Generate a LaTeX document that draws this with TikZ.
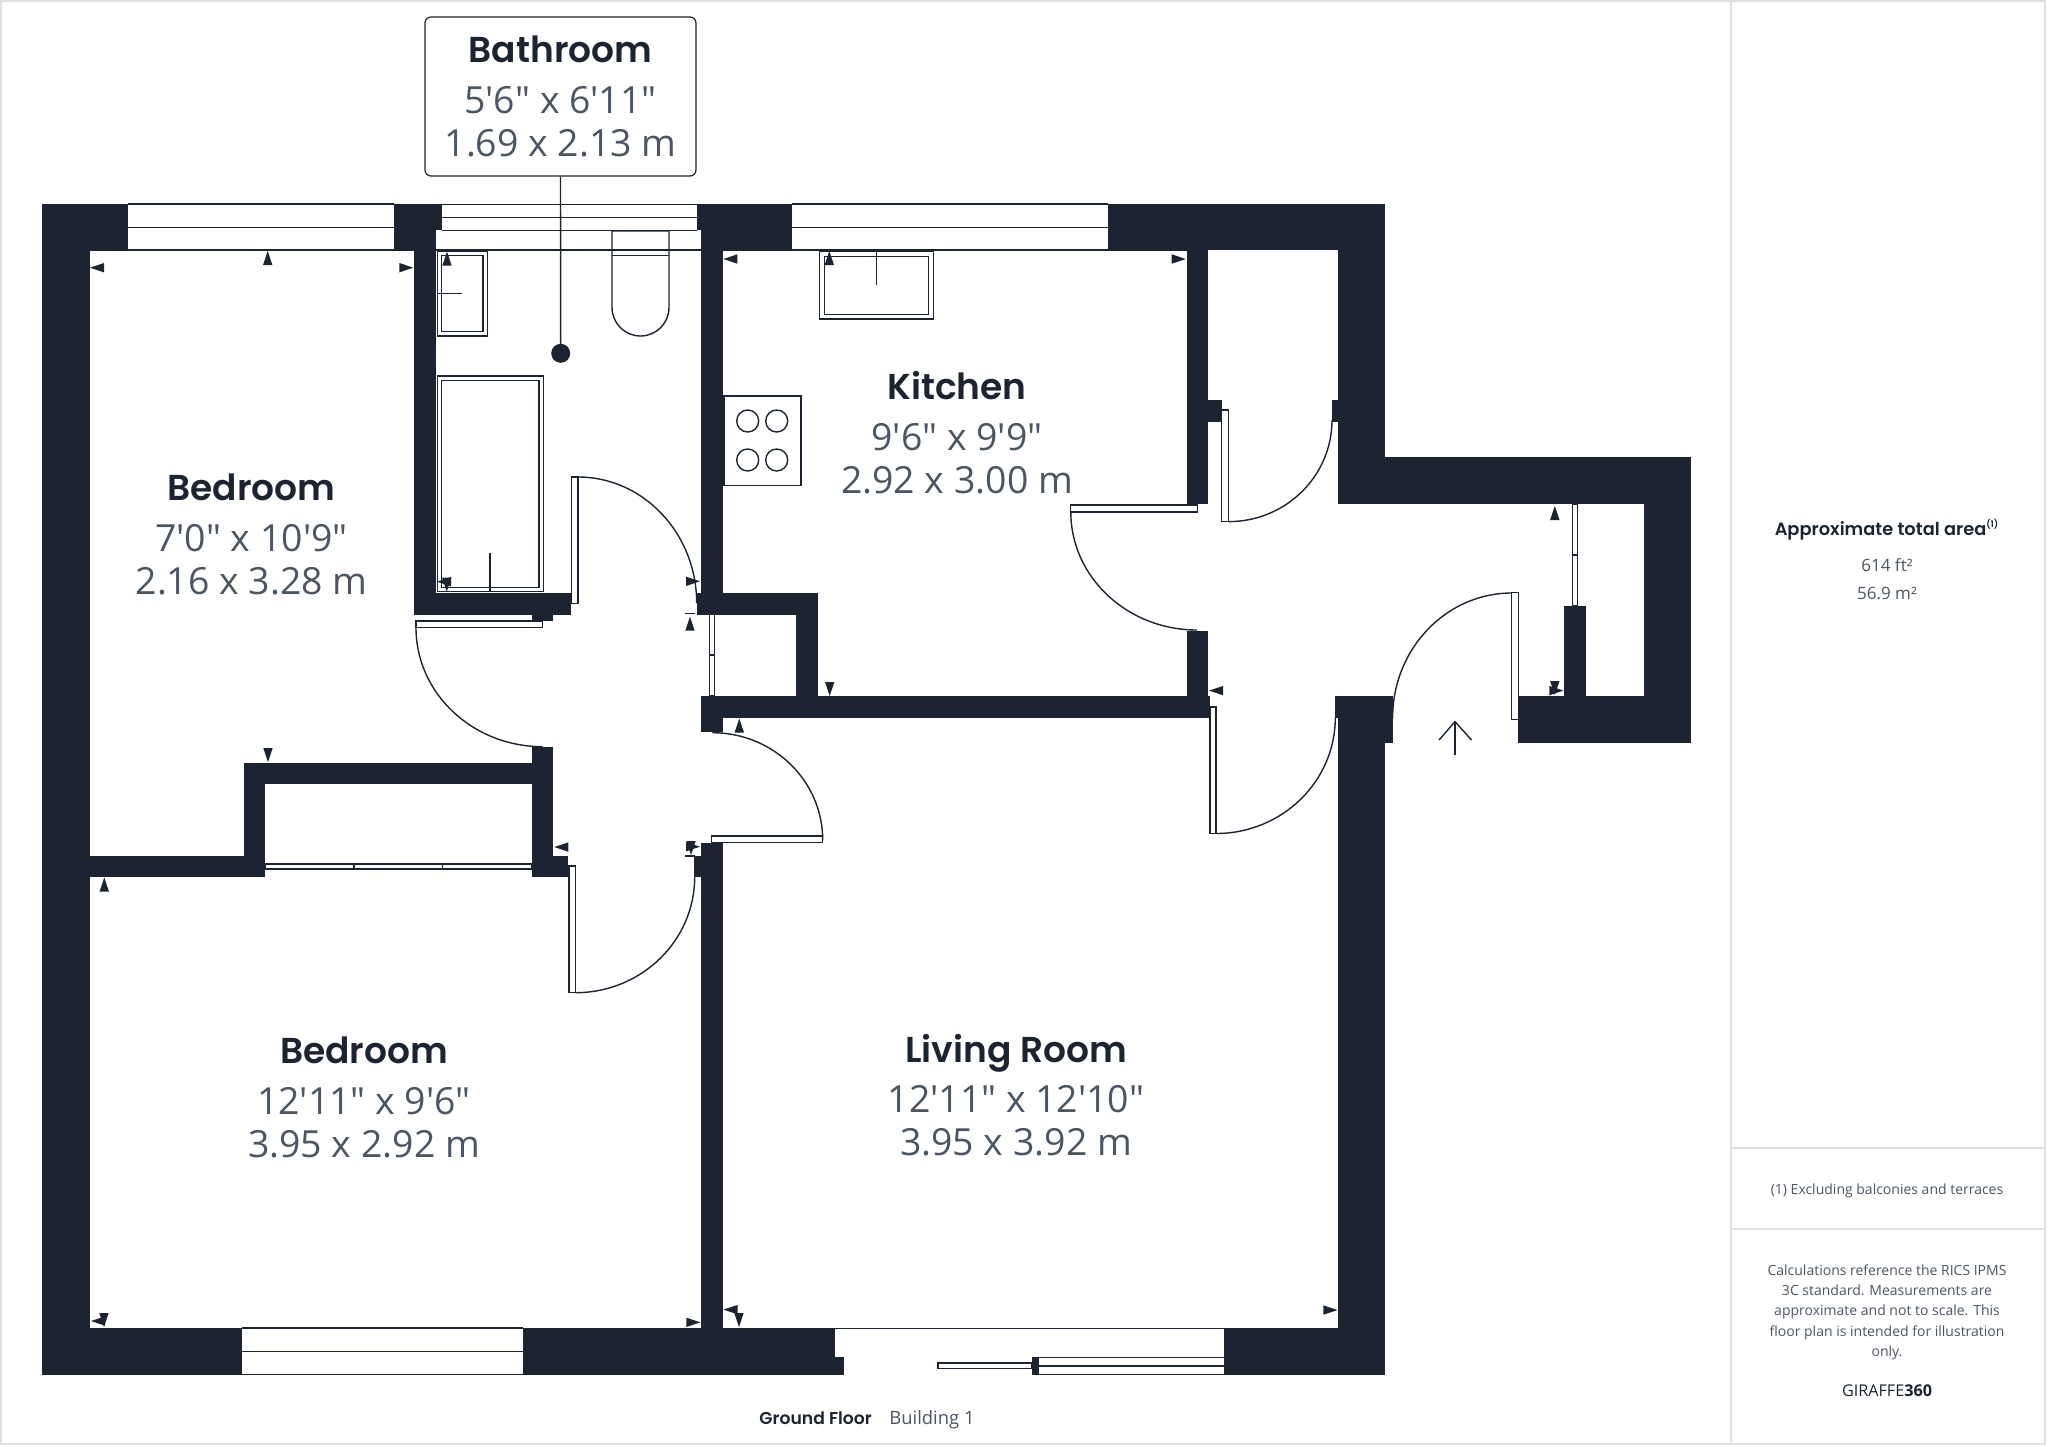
\documentclass[tikz,border=0pt]{standalone}
\usepackage{fontspec}
\newfontfamily\bodyfont{Open Sans}
\newfontfamily\headfont{Poppins}[BoldFont={Poppins SemiBold}]
\usetikzlibrary{calc}
\definecolor{wallcol}{HTML}{1B2430}
\definecolor{valuecol}{HTML}{4B5563}
\definecolor{framecol}{HTML}{DEE0E2}
\tikzset{
  wall/.style={fill=wallcol},
  fixture/.style={draw=wallcol, line width=0.7pt},
  leaf/.style={draw=wallcol, line width=0.6pt, fill=white},
  frame/.style={draw=framecol, line width=1pt},
  roomname/.style={font=\headfont\bfseries\fontsize{18}{20}\selectfont, text=wallcol, inner sep=0pt},
  roomsize/.style={font=\bodyfont\fontsize{18.7}{22}\selectfont, text=valuecol, inner sep=0pt},
  sidetext/.style={font=\bodyfont\fontsize{8.5}{10.2}\selectfont, text=valuecol, inner sep=0pt, align=center}
}
% door swing, from #1 to #2, #3 is the corner of the swing
\newcommand{\swing}[3]{\draw[fixture] (#1) .. controls ($(#1)!0.552!(#3)$) and ($(#2)!0.552!(#3)$) .. (#2);}
% dimension marks, tip at the given point
\newcommand{\tipup}[2]{\fill[wall] (#1,#2) -- ++(-4.7,14) -- ++(9.4,0) -- cycle;}
\newcommand{\tipdown}[2]{\fill[wall] (#1,#2) -- ++(-4.7,-14) -- ++(9.4,0) -- cycle;}
\newcommand{\tipleft}[2]{\fill[wall] (#1,#2) -- ++(14,-4.7) -- ++(0,9.4) -- cycle;}
\newcommand{\tipright}[2]{\fill[wall] (#1,#2) -- ++(-14,-4.7) -- ++(0,9.4) -- cycle;}
\begin{document}
\begin{tikzpicture}[x=0.5pt,y=-0.5pt]
  \useasboundingbox (0,0) rectangle (2048,1446);
  % frame and side panel
  \draw[frame] (1,1) rectangle (2045,1444);
  \draw[frame] (1731,1) -- (1731,1444);
  \draw[frame] (1731,1148) -- (2045,1148);
  \draw[frame] (1731,1229) -- (2045,1229);
  % walls
  \foreach \xa/\ya/\xb/\yb in {42.3/204/89.5/1375, 42.3/204/128/250, 393.7/204/442.3/230.3, 393.7/230/436/250,
      414.3/204/436/614.7, 414.3/592.7/571/614.7, 531.7/592.7/553.3/621,
      697.3/204/791.8/230.3, 701/204/791.8/250, 701/204/722.7/592.7, 1107.8/204/1385.2/250,
      697/592.7/817.7/614.7, 796/592.7/817.7/696, 701/696/1209.6/717.6, 701/696/722.7/732.3,
      1186.6/204/1208.3/504, 1208/400/1221.7/421.6, 1186.6/631/1208.3/717.6,
      1338/204/1385.2/504, 1332/400/1338/421.6, 1338/457/1691/504, 1644/457/1691/743, 1518.3/696.3/1691/743,
      1564/606/1585.6/696.3,
      1335.3/696.3/1392.6/717.6, 1338/696.3/1385.2/1375, 1385/696.3/1392.6/743,
      89/855.7/265.3/877, 243.7/762.7/265.3/877, 243.7/762.7/553.3/784, 531.7/747.3/553.3/877, 531.7/855.7/568.3/877,
      701/842.7/722.7/1340, 694/856/701/877,
      42.3/1328/241.6/1375, 522.8/1328/834.8/1375, 834.8/1357/844.2/1375, 1223.6/1328/1385.2/1375,
      1031.6/1357/1038.7/1375}
    \fill[wall] (\xa,\ya) rectangle (\xb,\yb);
  % windows
  \draw[fixture] (128,204) -- (393.7,204) (128,227.3) -- (393.7,227.3) (89.5,250) -- (414.3,250);
  \draw[fixture] (442.3,204.3) -- (697.3,204.3) (442.3,217.7) -- (697.3,217.7) (442.3,230.3) -- (697.3,230.3) (436,250) -- (701,250);
  \draw[fixture] (791.8,204) -- (1107.8,204) (791.8,227.3) -- (1107.8,227.3) (722.7,250) -- (1186.6,250);
  \draw[fixture] (241.6,1328) -- (522.8,1328) (241.6,1351.5) -- (522.8,1351.5) (241.6,1374.5) -- (522.8,1374.5);
  \draw[fixture] (834.8,1328.5) -- (1223.6,1328.5) (1038.7,1357.5) -- (1223.6,1357.5) (1038.7,1366) -- (1223.6,1366) (1038.7,1374.5) -- (1223.6,1374.5);
  \draw[leaf] (938,1363) rectangle (1031.6,1368.7);
  % sliding panels
  \draw[leaf] (265.3,864) rectangle (354,869);
  \draw[leaf] (354,864) rectangle (442.7,869);
  \draw[leaf] (442.7,864) rectangle (531.7,869);
  \draw[leaf] (709.3,614.7) rectangle (714.3,655);
  \draw[leaf] (709.3,655) rectangle (714.3,696);
  \draw[leaf] (1572.6,504) rectangle (1577.3,555);
  \draw[leaf] (1572.6,555) rectangle (1577.3,606);
  % doors
  \draw[leaf] (571.7,477) rectangle (578,603.7);
  \swing{578,477}{696.7,603.3}{696.7,477}
  \draw[leaf] (416,621) rectangle (542.7,627.7);
  \swing{416,627.7}{542.7,746.7}{416,746.7}
  \draw[leaf] (569,866) rectangle (575.3,992.7);
  \swing{575.3,992.7}{694.7,877}{694.7,992.7}
  \draw[leaf] (711.7,836) rectangle (822.7,842.7);
  \swing{822.7,840}{712.3,732.7}{822.7,732.7}
  \draw[leaf] (1070.8,505) rectangle (1197.4,512);
  \swing{1070.8,512}{1197,630}{1070.8,630}
  \draw[leaf] (1221.7,410) rectangle (1228.7,521.6);
  \swing{1228.7,521.6}{1332,420}{1332,521.6}
  \draw[leaf] (1210,707) rectangle (1216,833.5);
  \swing{1216,833.5}{1335.3,717.6}{1335.3,833.5}
  \draw[leaf] (1511.8,592.6) rectangle (1518.3,719.6);
  \swing{1511.8,593}{1392.6,718}{1392.6,593}
  % bathroom fittings
  \draw[fixture] (437.3,251) rectangle (487.3,336);
  \draw[fixture] (441.7,255.7) rectangle (483,331.7);
  \draw[fixture] (437.3,293.7) -- (462,293.7);
  \draw[fixture] (437.3,376) rectangle (543.7,591.7);
  \draw[fixture] (441.7,380.7) rectangle (539,587.3);
  \draw[fixture] (490,552.7) -- (490,591.7);
  \draw[fixture] (612,231) -- (669,231) -- (669,307.3)
    .. controls (669,323.5) and (656,336) .. (640.5,336)
    .. controls (625,336) and (612,323.5) .. (612,307.3) -- cycle;
  \draw[fixture] (612,255.7) -- (669,255.7);
  % kitchen fittings
  \draw[fixture] (819.3,251) rectangle (933.2,319);
  \draw[fixture] (824.3,256.3) rectangle (928.6,314.3);
  \draw[fixture] (876.4,251) -- (876.4,285);
  \draw[fixture] (724,396) rectangle (801,485.3);
  \foreach \hx in {747.7,776.7}
    \foreach \hy in {421,460}
      \draw[fixture] (\hx,\hy) circle[radius=11];
  % dimension marks
  \tipleft{90}{267.7} \tipup{267.7}{251} \tipright{413.3}{267.7}
  \tipup{447}{251.7} \tipleft{437}{581.7} \tipdown{446.7}{591.7} \tipright{700}{581.3}
  \tipup{690}{616.7} \draw[fixture] (685,613.5) -- (695,613.5);
  \tipleft{723.3}{259} \tipup{829.3}{251} \tipright{1185.7}{259}
  \tipdown{829.7}{696} \tipup{739.3}{718.5}
  \tipleft{554.3}{847} \tipright{700}{846.7} \tipdown{691}{855} \draw[fixture] (685,856) -- (695,856);
  \tipdown{268}{762} \tipup{104.3}{877.5}
  \tipleft{91}{1321} \tipdown{104}{1327} \tipright{700.3}{1322.3} \tipleft{723.5}{1309.6} \tipdown{739}{1327}
  \tipright{1337.4}{1310} \tipleft{1209}{690.6}
  \tipup{1554.8}{506} \tipdown{1554.8}{695} \tipright{1563.4}{690.6}
  % entrance arrow
  \coordinate (entrytip) at (1455,721.6);
  \coordinate (entryend) at (1455,755);
  \draw[fixture] (entryend) -- (entrytip);
  \draw[fixture] (1439,740) -- (entrytip) -- (1471.5,740);
  % rooms
  \node[roomname] (bedonetitle) at (251.5,487) {Bedroom};
  \node[roomsize] (bedonefeet) at (251.5,538) {7'0" x 10'9"};
  \node[roomsize] (bedonemetre) at (251.5,581) {2.16 x 3.28 m};
  \node[roomname] (kitchentitle) at (957,386) {Kitchen};
  \node[roomsize] (kitchenfeet) at (957,437) {9'6" x 9'9"};
  \node[roomsize] (kitchenmetre) at (957,480) {2.92 x 3.00 m};
  \node[roomname] (bedtwotitle) at (364,1050) {Bedroom};
  \node[roomsize] (bedtwofeet) at (364,1101) {12'11" x 9'6"};
  \node[roomsize] (bedtwometre) at (364,1144) {3.95 x 2.92 m};
  \node[roomname] (livingtitle) at (1016,1053) {Living Room};
  \node[roomsize] (livingfeet) at (1016,1099.5) {12'11" x 12'10"};
  \node[roomsize] (livingmetre) at (1016,1142.5) {3.95 x 3.92 m};
  % bathroom label with leader
  \node[draw=wallcol, line width=0.6pt, fill=white, rounded corners=3pt, minimum width=135.5pt, minimum height=79.5pt] (bathbox) at (560.5,96.5) {};
  \node[roomname] (bathtitle) at (560.5,49) {Bathroom};
  \node[roomsize] (bathfeet) at (560.5,100.5) {5'6" x 6'11"};
  \node[roomsize] (bathmetre) at (560.5,143.5) {1.69 x 2.13 m};
  \node[circle, fill=wallcol, minimum size=9.5pt, inner sep=0pt] (bathdot) at (560.7,353.3) {};
  \draw[fixture] (bathbox.south) -- (bathdot.center);
  % floor caption
  \node[font=\headfont\bfseries\fontsize{8.6}{11}\selectfont, text=wallcol, inner sep=0pt, anchor=base west] (floorname) at (759,1424) {Ground Floor};
  \node[font=\bodyfont\fontsize{9.2}{11}\selectfont, text=valuecol, inner sep=0pt, anchor=base west] (buildingname) at (889,1424) {Building 1};
  % side panel texts
  \node[font=\headfont\bfseries\fontsize{8.9}{10}\selectfont, text=wallcol, inner sep=0pt] (areatitle) at (1887,530) {Approximate total area\textsuperscript{\fontsize{4.5}{5}\selectfont(1)}};
  \node[sidetext] (areafeet) at (1887,565) {614 ft²};
  \node[sidetext] (areametre) at (1887,593) {56.9 m²};
  \node[sidetext, font=\bodyfont\fontsize{7}{10.2}\selectfont] (excluding) at (1887,1190.5) {(1) Excluding balconies and terraces};
  \node[sidetext, font=\bodyfont\fontsize{7}{10.2}\selectfont] (disclaimer) at (1887,1312.3) {Calculations reference the RICS IPMS\\3C standard. Measurements are\\approximate and not to scale. This\\floor plan is intended for illustration\\only.};
  \node[font=\bodyfont\fontsize{8.1}{10}\selectfont, text=wallcol, inner sep=0pt] (brand) at (1887,1391) {GIRAFFE\textbf{360}};
\end{tikzpicture}
\end{document}
